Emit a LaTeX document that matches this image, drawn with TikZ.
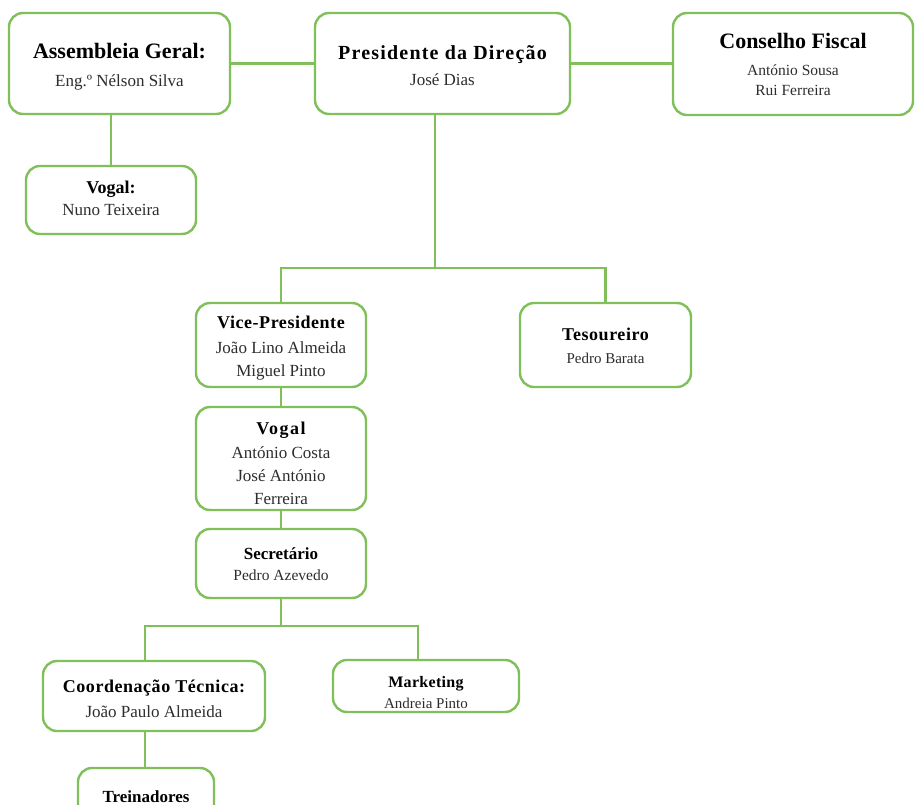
\documentclass[tikz,border=0pt]{standalone}
\usepackage{fontspec}
\setmainfont{Liberation Serif}
\definecolor{orggreen}{RGB}{128,192,90}
\definecolor{nametext}{RGB}{45,45,45}
% font size with a chosen line distance
\newcommand{\fsz}[2]{\fontsize{#1}{#2}\selectfont}
% bold black heading, optional letter spacing
\newcommand{\ttl}[3]{{\fontsize{#1}{#1}\selectfont\bfseries\addfontfeature{LetterSpace=#2}\color{black}#3}}
\begin{document}
\begin{tikzpicture}[x=1pt,y=-1pt,
  orgbox/.style={draw=orggreen, line width=2.4pt, rounded corners=14pt, fill=white},
  orgtext/.style={align=center, inner sep=0pt, text=nametext},
  link/.style={draw=orggreen, line width=2.4pt}]
\useasboundingbox (0,0) rectangle (915,805);

% boxes
\node[orgbox, minimum width=221pt, minimum height=101pt] (asm)   at (119.5,63.5) {};
\node[orgbox, minimum width=255pt, minimum height=101pt] (pres)  at (442.5,63.5) {};
\node[orgbox, minimum width=240pt, minimum height=102pt] (cons)  at (793,64) {};
\node[orgbox, minimum width=170pt, minimum height=68pt]  (vog1)  at (111,200) {};
\node[orgbox, minimum width=170pt, minimum height=84pt]  (vp)    at (281,345) {};
\node[orgbox, minimum width=171pt, minimum height=84pt]  (tes)   at (605.5,345) {};
\node[orgbox, minimum width=170pt, minimum height=103pt] (vog2)  at (281,458.5) {};
\node[orgbox, minimum width=170pt, minimum height=69pt]  (sec)   at (281,563.5) {};
\node[orgbox, minimum width=222pt, minimum height=70pt]  (coord) at (154,696) {};
\node[orgbox, minimum width=186pt, minimum height=52pt]  (mkt)   at (426,686) {};
\node[orgbox, minimum width=136pt, minimum height=56pt]  (trein) at (146,796) {};

% texts
\node[orgtext, font=\fsz{17}{23}] (asm-t) at (119.5,67)
  {\ttl{22}{0}{Assembleia Geral:}\\[5pt]Eng.º Nélson Silva};
\node[orgtext, font=\fsz{17}{23}] (pres-t) at (442.5,65.5)
  {\ttl{20}{6}{Presidente da Direção}\\[3pt]José Dias};
\node[orgtext, font=\fsz{15.5}{20}] (cons-t) at (793,64.5)
  {\ttl{22}{0}{Conselho Fiscal}\\[7pt]António Sousa\\Rui Ferreira};
\node[orgtext, font=\fsz{17}{22}] (vog1-t) at (111,198.5)
  {\ttl{18}{0}{Vogal:}\\Nuno Teixeira};
\node[orgtext, font=\fsz{17}{23}] (vp-t) at (281,348)
  {\ttl{18}{3}{Vice-Presidente}\\[2pt]João Lino Almeida\\Miguel Pinto};
\node[orgtext, font=\fsz{15}{23}] (tes-t) at (605.5,346)
  {\ttl{18}{3}{Tesoureiro}\\Pedro Barata};
\node[orgtext, font=\fsz{17}{23}] (vog2-t) at (281,463)
  {\ttl{18}{8}{Vogal}\\[1pt]António Costa\\José António\\Ferreira};
\node[orgtext, font=\fsz{15.5}{21}] (sec-t) at (281,564)
  {\ttl{17}{0}{Secretário}\\Pedro Azevedo};
\node[orgtext, font=\fsz{17}{25}] (coord-t) at (154,698.5)
  {\ttl{18}{3}{Coordenação Técnica:}\\João Paulo Almeida};
\node[orgtext, font=\fsz{15}{21}] (mkt-t) at (426,692.5)
  {\ttl{16}{2}{Marketing}\\Andreia Pinto};
\node[orgtext, font=\fsz{17}{20}] (trein-t) at (146,797)
  {\ttl{17}{0}{Treinadores}};

% junctions
\coordinate (j1) at (435,268);
\coordinate (j2) at (281,626);
\coordinate (jl) at (145,626);
\coordinate (jr) at (418,626);

% connectors
\draw[link] (asm.east) -- (pres.west |- asm.east);
\draw[link] (pres.east) -- (pres.east -| cons.west);
\draw[link] (vog1.north) -- (vog1.north |- asm.south);
\draw[link] (pres.south -| j1) -- (j1);
\draw[link] (vp.north) |- (j1) -| (tes.north);
\draw[link] (vp.south) -- (vog2.north);
\draw[link] (vog2.south) -- (sec.north);
\draw[link] (sec.south) -- (j2);
\draw[link] (coord.north -| jl) -- (jl) -- (jr) -- (mkt.north -| jr);
\draw[link] (coord.south -| jl) -- (trein.north -| jl);
\end{tikzpicture}
\end{document}
